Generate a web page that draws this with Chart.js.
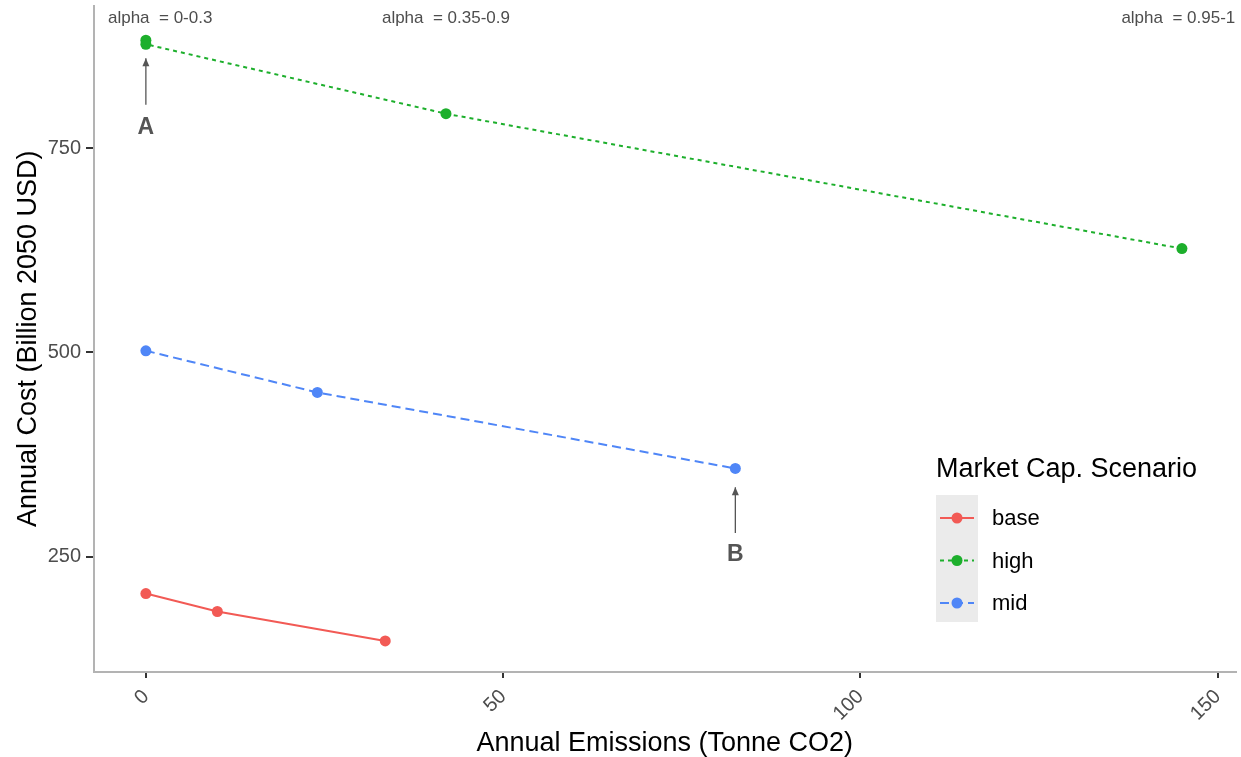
<!DOCTYPE html>
<html>
<head>
<meta charset="utf-8">
<script src="https://cdn.jsdelivr.net/npm/chart.js@4.4.0/dist/chart.umd.min.js"></script>
<style>
  html, body { margin: 0; padding: 0; background: #fff; }
  #wrap { width: 1241px; height: 757px; }
</style>
</head>
<body>
<div id="wrap"><canvas id="chart"></canvas></div>
<script>
// data
const scenarios = ["base", "high", "mid"];
const baseX = [0, 10, 33.5];
const baseY = [205, 183, 147];
const highX = [0, 0, 42, 145];
const highY = [882, 877, 792, 627];
const midX = [0, 24, 82.5];
const midY = [502, 451, 358];
const xTicks = [0, 50, 100, 150];
const yTicks = [250, 500, 750];
const alphaLabels = ["alpha  = 0-0.3", "alpha  = 0.35-0.9", "alpha  = 0.95-1"];
const alphaX = [2, 42, 144.5];
const alphaY = 909;

const colors = ["#F25A55", "#1DAF2C", "#4F86F7"];
const dashes = [[], [4, 4], [9, 5]];
const FONT = "'Liberation Sans', Arial, sans-serif";

function pts(xs, ys) {
  return xs.map((x, i) => ({ x: x, y: ys[i] }));
}

const series = [pts(baseX, baseY), pts(highX, highY), pts(midX, midY)];

const datasets = scenarios.map((name, i) => ({
  label: name,
  data: series[i],
  borderColor: colors[i],
  backgroundColor: colors[i],
  borderWidth: 2,
  borderDash: dashes[i],
  pointRadius: 5.5,
  pointBorderWidth: 0,
  showLine: true,
  tension: 0
}));

function arrow(ctx, x, y1, y2) {
  ctx.beginPath();
  ctx.moveTo(x, y1);
  ctx.lineTo(x, y2);
  ctx.stroke();
  ctx.beginPath();
  ctx.moveTo(x, y2);
  ctx.lineTo(x - 3.5, y2 + 8);
  ctx.lineTo(x + 3.5, y2 + 8);
  ctx.closePath();
  ctx.fill();
}

const extras = {
  id: "extras",
  afterDatasetsDraw(chart) {
    const ctx = chart.ctx;
    const xs = chart.scales.x;
    const ys = chart.scales.y;
    ctx.save();
    // alpha labels
    ctx.fillStyle = "#4d4d4d";
    ctx.font = "17px " + FONT;
    ctx.textAlign = "center";
    ctx.textBaseline = "middle";
    alphaLabels.forEach((t, i) => {
      ctx.fillText(t, xs.getPixelForValue(alphaX[i]), ys.getPixelForValue(alphaY));
    });
    // arrows A and B
    ctx.strokeStyle = "#555";
    ctx.fillStyle = "#555";
    ctx.lineWidth = 1.3;
    arrow(ctx, xs.getPixelForValue(highX[0]), ys.getPixelForValue(803), ys.getPixelForValue(860));
    arrow(ctx, xs.getPixelForValue(midX[2]), ys.getPixelForValue(279), ys.getPixelForValue(335));
    ctx.font = "bold 23px " + FONT;
    ctx.fillText("A", xs.getPixelForValue(highX[0]), ys.getPixelForValue(775));
    ctx.fillText("B", xs.getPixelForValue(midX[2]), ys.getPixelForValue(252));

    // legend
    const lx = 936, ly = 495;
    ctx.textAlign = "left";
    ctx.fillStyle = "#000";
    ctx.font = "27px " + FONT;
    ctx.fillText("Market Cap. Scenario", lx, 470);
    ctx.fillStyle = "#ebebeb";
    ctx.fillRect(lx, ly, 42, 127);
    chart.data.datasets.forEach((ds, i) => {
      const cy = 518 + i * 42.5;
      ctx.strokeStyle = ds.borderColor;
      ctx.fillStyle = ds.borderColor;
      ctx.lineWidth = 2;
      ctx.setLineDash(ds.borderDash);
      ctx.beginPath();
      ctx.moveTo(lx + 4, cy);
      ctx.lineTo(lx + 38, cy);
      ctx.stroke();
      ctx.setLineDash([]);
      ctx.beginPath();
      ctx.arc(lx + 21, cy, 5.5, 0, Math.PI * 2);
      ctx.fill();
      ctx.fillStyle = "#000";
      ctx.font = "22px " + FONT;
      ctx.fillText(ds.label, lx + 56, cy + 1);
    });
    ctx.restore();
  }
};

new Chart(document.getElementById("chart"), {
  type: "scatter",
  data: { datasets: datasets },
  plugins: [extras],
  options: {
    responsive: true,
    maintainAspectRatio: false,
    animation: false,
    layout: { padding: { top: 0, right: 3, left: 0, bottom: 0 } },
    plugins: {
      legend: { display: false },
      tooltip: { enabled: false }
    },
    scales: {
      x: {
        type: "linear",
        min: -7.26,
        max: 152.5,
        afterBuildTicks(scale) { scale.ticks = xTicks.map(v => ({ value: v })); },
        afterFit(scale) { scale.height = 85; scale.paddingLeft = 0; scale.paddingRight = 0; },
        border: { display: true, color: "#b3b3b3", width: 2 },
        grid: { display: true, drawOnChartArea: false, drawTicks: true, tickLength: 6, color: "#333", lineWidth: 2 },
        ticks: {
          minRotation: 45, maxRotation: 45, padding: 7,
          color: "#4d4d4d",
          font: { size: 20, family: FONT }
        },
        title: {
          display: true,
          text: "Annual Emissions (Tonne CO2)",
          color: "#000",
          padding: { top: 0, bottom: -3 },
          font: { size: 27, family: FONT }
        }
      },
      y: {
        min: 109,
        max: 924.4,
        afterBuildTicks(scale) { scale.ticks = yTicks.map(v => ({ value: v })); },
        afterFit(scale) { scale.width = 94; scale.paddingTop = 0; scale.paddingBottom = 0; },
        border: { display: true, color: "#b3b3b3", width: 2 },
        grid: { display: true, drawOnChartArea: false, drawTicks: true, tickLength: 8, color: "#333", lineWidth: 2 },
        ticks: {
          padding: 5,
          color: "#4d4d4d",
          font: { size: 20, family: FONT }
        },
        title: {
          display: true,
          text: "Annual Cost (Billion 2050 USD)",
          color: "#000",
          padding: { top: 12, bottom: 0 },
          font: { size: 27, family: FONT }
        }
      }
    }
  }
});
</script>
</body>
</html>
